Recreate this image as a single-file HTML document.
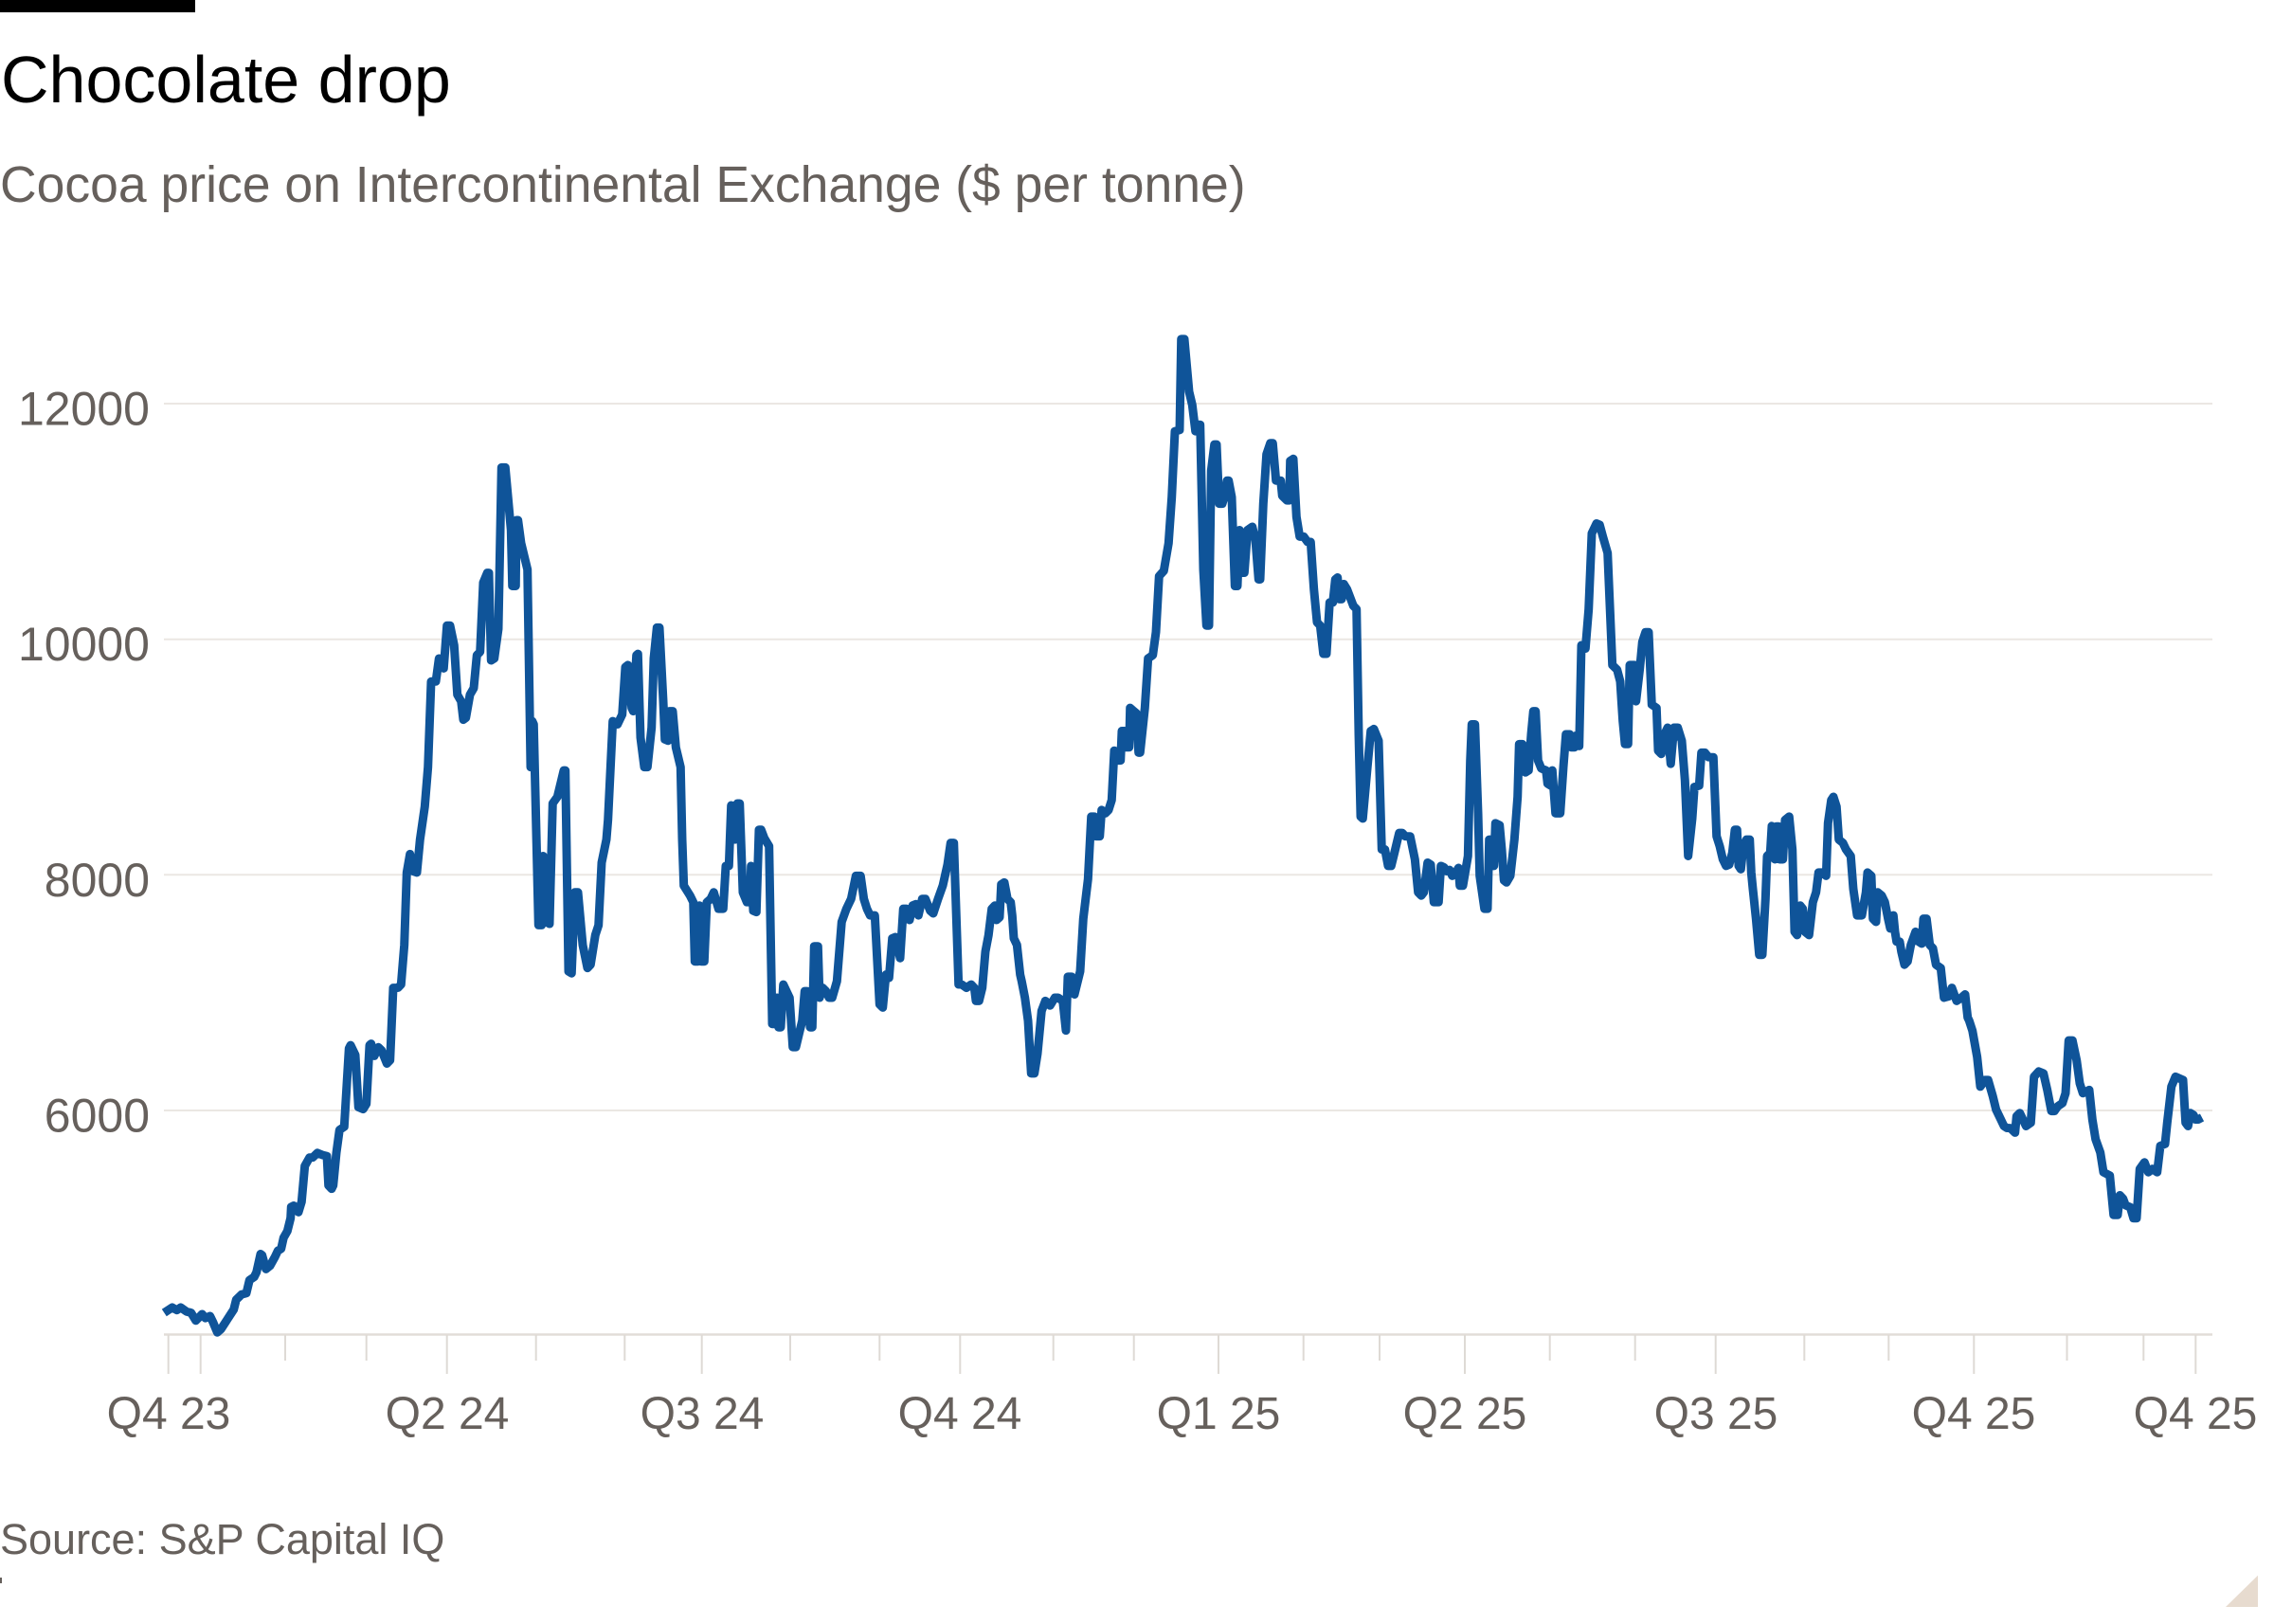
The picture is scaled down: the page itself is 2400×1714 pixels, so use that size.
<!DOCTYPE html>
<html>
<head>
<meta charset="utf-8">
<style>
  html, body { margin: 0; padding: 0; background: #ffffff; }
  body { width: 2400px; height: 1714px; overflow: hidden; }
  svg { display: block; }
  text { font-family: "Liberation Sans", Arial, sans-serif; }
</style>
</head>
<body>
<svg width="2400" height="1714" viewBox="0 0 2400 1714" xmlns="http://www.w3.org/2000/svg">
  <rect x="0" y="0" width="2400" height="1714" fill="#ffffff"/>
  <!-- top bar -->
  <rect x="0" y="0" width="206" height="13" fill="#000000"/>
  <!-- title -->
  <text x="1" y="108" font-size="70" fill="#000000">Chocolate drop</text>
  <text x="0" y="213" font-size="53.5" fill="#66605c">Cocoa price on Intercontinental Exchange ($ per tonne)</text>

  <!-- gridlines -->
  <g stroke="#ebe7e3" stroke-width="2">
    <line x1="173" y1="426" x2="2335" y2="426"/>
    <line x1="173" y1="674.7" x2="2335" y2="674.7"/>
    <line x1="173" y1="923.3" x2="2335" y2="923.3"/>
    <line x1="173" y1="1172" x2="2335" y2="1172"/>
  </g>
  <!-- baseline -->
  <line x1="173" y1="1408.5" x2="2335" y2="1408.5" stroke="#e2ddd8" stroke-width="2.5"/>

  <!-- ticks -->
  <g stroke="#dedad5" stroke-width="2">
    <line x1="177.7" y1="1409" x2="177.7" y2="1450"/>
    <line x1="211.7" y1="1409" x2="211.7" y2="1450"/>
    <line x1="301" y1="1409" x2="301" y2="1436"/>
    <line x1="386.7" y1="1409" x2="386.7" y2="1436"/>
    <line x1="471.7" y1="1409" x2="471.7" y2="1450"/>
    <line x1="565.7" y1="1409" x2="565.7" y2="1436"/>
    <line x1="659.3" y1="1409" x2="659.3" y2="1436"/>
    <line x1="740.7" y1="1409" x2="740.7" y2="1450"/>
    <line x1="834" y1="1409" x2="834" y2="1436"/>
    <line x1="928.3" y1="1409" x2="928.3" y2="1436"/>
    <line x1="1013.3" y1="1409" x2="1013.3" y2="1450"/>
    <line x1="1111.7" y1="1409" x2="1111.7" y2="1436"/>
    <line x1="1196.7" y1="1409" x2="1196.7" y2="1436"/>
    <line x1="1286" y1="1409" x2="1286" y2="1450"/>
    <line x1="1375.7" y1="1409" x2="1375.7" y2="1436"/>
    <line x1="1456" y1="1409" x2="1456" y2="1436"/>
    <line x1="1546" y1="1409" x2="1546" y2="1450"/>
    <line x1="1635.7" y1="1409" x2="1635.7" y2="1436"/>
    <line x1="1725.7" y1="1409" x2="1725.7" y2="1436"/>
    <line x1="1810.7" y1="1409" x2="1810.7" y2="1450"/>
    <line x1="1904.3" y1="1409" x2="1904.3" y2="1436"/>
    <line x1="1993.3" y1="1409" x2="1993.3" y2="1436"/>
    <line x1="2083.3" y1="1409" x2="2083.3" y2="1450"/>
    <line x1="2181.5" y1="1409" x2="2181.5" y2="1436"/>
    <line x1="2262.3" y1="1409" x2="2262.3" y2="1436"/>
    <line x1="2317.3" y1="1409" x2="2317.3" y2="1450"/>
  </g>

  <!-- y labels -->
  <g font-size="50" fill="#66605c" text-anchor="end">
    <text x="158" y="448.5">12000</text>
    <text x="158" y="697">10000</text>
    <text x="158" y="946">8000</text>
    <text x="158" y="1194.5">6000</text>
  </g>

  <!-- x labels -->
  <g font-size="48" fill="#66605c" text-anchor="middle">
    <text x="178" y="1508">Q4 23</text>
    <text x="472" y="1508">Q2 24</text>
    <text x="741" y="1508">Q3 24</text>
    <text x="1013" y="1508">Q4 24</text>
    <text x="1286" y="1508">Q1 25</text>
    <text x="1546" y="1508">Q2 25</text>
    <text x="1811" y="1508">Q3 25</text>
    <text x="2083" y="1508">Q4 25</text>
    <text x="2317" y="1508">Q4 25</text>
  </g>

  <!-- data line -->
  <polyline transform="matrix(1 0 0 0.99409 0 1.95)" fill="none" stroke="#0f5499" stroke-width="9" stroke-linejoin="round" stroke-linecap="butt"
    points="173.3,1391.8 181.7,1386.2 186.7,1389 190.7,1386.2 196.7,1390.4 201.7,1391.8 206.7,1400.1 210.7,1396 213.3,1393.2 216.7,1397.4 221.7,1395.3 225,1402.2 229.3,1412.6 233.3,1409.1 240,1398.7 246.7,1388.3 249.3,1377.9 255,1372.4 260,1371 263.3,1357.1 268.3,1353.7 270.7,1348.8 275,1329.4 276.7,1330.8 280.7,1345.4 285,1341.9 290,1332.9 293.3,1325.9 296.7,1323.9 299.3,1312.1 303.3,1305.1 306.7,1291.3 307.3,1279.5 310,1278.1 315,1285 318.3,1274 321.7,1235.9 326.7,1227 330,1227 335,1222.1 340,1224.2 345,1225.5 346.7,1256.7 350,1260.2 351.7,1256.7 355,1222.1 358.3,1197.7 363.3,1194.3 368.3,1111.1 370,1107.7 375,1118.1 378.3,1173.5 383.3,1175.6 386.7,1170 390,1107.7
    391.7,1106.2 395,1119.1 399.3,1109.9 402.7,1113.1 408.3,1127.2 411.7,1123.7 415,1046.8 420,1046.8 423.3,1043.3 426.7,1001.3 429.3,924.4 432.7,904.8 436,923 440,924.4 443.3,889.4 448.3,854.5 451.7,812.5 455,721.6 460,721.6 463.3,697.1 468.3,707.6 471.7,662.2 475,662.2 479.3,683.1 482.7,735.6 486.7,742.6 489,762.2 491.7,760.1 496,735.6 500,728.6 503.3,693.6 506.7,690.1 510,616.7 514.3,606.2 516,606.2 518.3,699.2 521.7,697.1 526,665.7 529.3,494.3 533.3,494.3 539.3,560.8 540.7,620.2 544.3,620.2 545,550.3 546.7,550.3 550,574.8 556.7,602.7 560,812.5 561.7,763.6 563.3,767.1 568.3,980.3 571.7,980.3 573.3,906.9 576.7,976.8 580,978.9 583.3,851 588.3,844 595,816 596.7,816 600,1029.3 603.3,1031.4 606.7,945.4 610,945.4 615,1001.3 620,1025.8 623.3,1022.3 628.3,990.8 631.7,980.3 635,913.9 640,889.4 641.7,868.5 646.7,763.6 651.7,767.1 656.7,756.6 660,706.2 662.7,704.1 666.7,749.6 668.3,753.1 671.7,693.6 673.3,692.2 676,781.1 680,812.5 683.3,812.5 687.7,770.6 690,697.1 693.3,664.3 696,664.3 700,742.6 701.7,783.1 705,784.5 706.7,753.1 710,753.1 713.3,791.5 718.3,812.5 720,889.4 721.7,938.4 728.3,948.9 731.7,955.9 733.3,1018.8 736.7,1018.8 738.3,959.4 740,1018.8 743.3,1018.8 746,955.9 750,952.4 753.3,945.4 758.3,962.9
    763.3,962.9 766,917.4 769.3,917.4 771.7,853.1 775,854.5 776,889.4 778.3,851 780.7,851 784,945.4 788.3,955.9 791.7,955.9 792.7,917.4 795,965 798.3,966.4 801,879 803.3,879 806.7,888 811.7,896.4 815,1085.2 818.3,1085.2 820,1057.3 821.7,1088.7 824,1088.7 826.7,1043.3 830,1050.3 833.3,1057.3 836.7,1109.7 840,1109.7 843.3,1095.7 846.7,1081.7 849.3,1050.3 851.7,1050.3 855,1088.7 857.3,1088.7 859.3,1002.7 863.3,1002.7 865,1057.3 868.3,1046.8 871.7,1050.3 875,1057.3 878.3,1057.3 883.3,1039.8 888.3,976.8 893.3,962.9 898.3,952.4 903.3,927.9 908.3,927.9 911.7,952.4 915,962.9 918.3,969.9 923.3,969.9 928.3,1064.3 931.7,1067.8 935,1032.8 938.3,1036.3 941.7,994.3 945,992.9 950,1015.3 953.3,962.9 956.7,962.9 960,974.8 963.3,959.4 966.7,958 969.3,969.9 973.3,952.4 976.7,952.4 981.7,965 985,967.8 990,952.4 995,938.4 1000,916 1003.3,892.9 1006.7,892.9 1011.7,1043.3 1015,1043.3 1020,1046.8 1025,1043.3 1028.3,1046.8 1030,1060.7 1033.3,1060.7 1036.7,1046.8 1040,1008.3 1043.3,990.8 1046.7,962.9 1050,959.4 1051.7,974.8 1055,971.9 1056.7,937 1060,934.9 1063.3,952.4 1066.7,955.9 1068.3,969.9 1070,994.3 1073.3,1001.3 1076.7,1032.8 1078.3,1039.8 1081.7,1057.3 1085,1081.7 1088.3,1137.7 1091.7,1137.7 1095,1116.7 1099.3,1071.3 1103.3,1060.7 1108.3,1065.6 1113.3,1057.3 1116.7,1057.3 1121.7,1060.7 1125,1092.2 1127,1035 1131,1035
    1134,1053.8 1140,1029.3 1143.3,973.4 1148.3,931.4 1151.7,865 1155,865 1156.7,886 1160.7,886 1162.7,858 1166.7,861.5 1170,858 1173.3,847.5 1176,795 1180,805.5 1182.7,805.5 1184,774.1 1186.7,774.1 1188.3,791.5 1191.7,791.5 1192.7,749.6 1196.7,753.1 1199.3,755.2 1201.7,797.1 1203.3,797.1 1208.3,749.6 1211.7,697.1 1216.7,693.6 1220,669.2 1223.3,609.7 1228.3,604.1 1233.3,574.8 1236.7,525.8 1240,455.9 1245,454.5 1246.7,358 1250,358 1255,413.9 1258.3,427.9 1261.7,455.9 1264,448.9 1266.7,448.9 1270,602.7 1273.3,662.2 1276,662.2 1278.3,497.8 1281.7,469.9 1284,469.9 1286.7,532.8 1290,532.8 1293.3,522.3 1295,508.3 1296.7,508.3 1300,525.8 1303.3,620.2 1306,620.2 1308.3,560.8 1311.7,606.2 1313.3,606.2 1316.7,560.8 1321.7,557.3 1325,571.3 1328.3,613.2 1330,613.2 1333.3,532.8 1336.7,480.3 1340.7,468.5 1343.3,468.5 1346.7,508.3 1351.7,508.3 1353.3,524.4 1358.3,529.3 1360.7,529.3 1361.7,487.3 1365,485.2 1368.3,546.8 1371.7,567.8 1376,567.8 1380,573.4 1383.3,573.4 1386.7,623.7 1390,658.7 1393.3,662.2 1396.7,692.2 1400,692.2 1403.3,637.7 1406.7,637.7 1409.3,613.2 1411.7,611.1 1413.3,634.2 1416,634.2 1418.3,618.1 1421.7,623.7 1428.3,641.2 1431.7,644.7 1434,777.6 1436,865 1438.3,867.1 1443.3,811.1 1446.7,774.1 1450,772 1455,784.5 1458.3,899.9 1461.7,899.9 1465,917.4 1468.3,917.4 1471.7,903.4 1476.7,882.4 1480,882.4 1483.3,886 1488.3,886 1493.3,910.4 1496.7,945.4 1500,948.9
    1502.7,945.4 1506.7,913.9 1510,916 1513.3,955.9 1518.3,955.9 1520.7,917.4 1524,918.8 1526.7,923 1530,921.6 1532.7,927.9 1536.7,924.4 1539.3,919.5 1540.7,938.4 1544,938.4 1549.3,906.9 1551.7,805.5 1553.3,767.1 1556.7,767.1 1560,861.5 1561.7,927.9 1566.7,962.9 1570,962.9 1571.7,889.4 1575,889.4 1576.7,917.4 1578.3,872 1582.7,874.1 1585,899.9 1587.3,932.8 1590,934.9 1594,927.9 1598.3,889.4 1601.7,844 1603.3,788 1606.7,788 1610,818.1 1613.3,816 1616,777.6 1618.3,753.1 1620.7,753.1 1623.3,805.5 1626.7,813.9 1631.7,816 1633.3,830 1636.7,832.1 1638.3,816 1641.7,861.5 1646.7,861.5 1650,812.5 1652.7,777.6 1656.7,777.6 1658.3,791.5 1661.7,791.5 1663.3,779 1666.7,790.1 1669,683.1 1673.3,686.6 1676.7,644.7 1680,564.3 1685,553.8 1688.3,555.2 1691.7,567.8 1696.7,585.2 1701.7,704.1 1706.7,709 1710,721.6 1712.7,763.6 1715,788 1718.3,788 1720,704.1 1725,704.1 1726.7,742.6 1730.7,707.6 1733.3,679.7 1736.7,669.2 1740,669.2 1743.3,746.1 1748.3,749.6 1750,795 1753.3,798.5 1756.7,777.6 1760,770.6 1763.3,809 1766.7,770.6 1770.7,770.6 1775,784.5 1778.3,826.5 1781.7,906.9 1786,867.1 1788.3,833.5 1793.3,832.1 1795.7,797.1 1799.3,797.1 1803.3,802 1808.3,802 1811.7,885.9 1815,896.4 1818.3,910.4 1821.7,917.4 1825,916 1828.3,903.4 1831,879 1833.3,879 1835,917.4 1837.3,920.9 1840,896.4 1843.3,889.4 1846.7,889.4 1848.3,924.4 1850,941.9 1853.3,973.4 1856.7,1011.8 1860,1011.8 1863.3,952.4 1865,906.9 1868.3,903.4 1870,875
    1873.3,910.4 1875,875.5 1877.3,875.5 1878.3,910.4 1881.7,910.4 1884,868.5 1888.3,865 1891.7,899.9 1893.3,959.4 1894,987.3 1896.7,990.8 1900,959.4 1902.7,962.9 1905,987.3 1909.3,990.8 1911.7,969.9 1913.3,955.9 1916.7,945.4 1919.3,924.4 1923.3,924.4 1927.3,927.9 1929.3,872 1932.7,847.5 1935,844 1938.3,854.5 1940.7,889.4 1945,892.9 1948.3,899.9 1953.3,906.9 1956,941.9 1960,969.9 1965,969.9 1969.3,945.4 1971,924.4 1975,927.9 1976.7,973.4 1980,976.8 1981.7,945.4 1986,948.9 1989.3,955.9 1992.7,973.4 1995,983.8 1998.3,969.9 2000,987.3 2001.7,997.8 2005,997.8 2006.7,1008.3 2010,1022.3 2013.3,1018.8 2016.7,1001.3 2021.7,987.3 2025,997.8 2028.3,999.9 2030,973.4 2033.3,973.4 2036.7,1001.3 2040,1004.8 2043.3,1022.3 2048.3,1025.8 2051.7,1057.3 2056.7,1055.9 2060,1046.8 2065,1060.7 2070,1057.3 2074,1053.8 2076.7,1078.3 2078.3,1081.7 2081.7,1092.2 2086.7,1120.2 2090,1151.7 2095,1144.7 2098.3,1144.7 2103.3,1162.2 2106.7,1176.2 2111.7,1186.6 2115,1193.6 2118.3,1195.7 2121.7,1195.7 2126.7,1200.6 2128.3,1183.1 2131.7,1179.7 2135,1186.6 2138.3,1193.6 2143.3,1190.1 2146.7,1141.2 2151.7,1135.6 2156.7,1137.7 2160.7,1155.2 2165,1177.6 2168.3,1177.6 2171.7,1172.7 2176.7,1169.2 2180,1158.7
    2183.3,1102.7 2187.3,1102.7 2191.7,1123.7 2195,1148.2 2198.3,1158.7 2205,1155.2 2208.3,1186.6 2211.7,1207.6 2216.7,1221.6 2220,1242.6 2226.7,1246.1 2230.7,1288 2235,1288 2237.3,1267 2240.7,1270.6 2243.3,1277.6 2248.3,1279.7 2251.7,1291.5 2255,1291.5 2258.3,1239.1 2263.3,1232.1 2267.3,1242.6 2271.7,1239.1 2276.7,1242.6 2280,1214.6 2285,1212.6 2287.3,1190.1 2291.7,1151.7 2296,1141.2 2304,1144.7 2306.7,1190.1 2309.3,1193.6 2311.7,1179.7 2315,1181.7 2317.3,1186.6 2320,1186.6 2324,1184.5"/>

  <!-- source -->
  <text x="0" y="1640" font-size="45" fill="#66605c">Source: S&amp;P Capital IQ</text>
  <rect x="0" y="1665" width="2" height="6" fill="#66605c"/>

  <!-- corner fold -->
  <polygon points="2349,1696 2383,1662.7 2383,1696" fill="#e7dbcf"/>
</svg>
</body>
</html>
